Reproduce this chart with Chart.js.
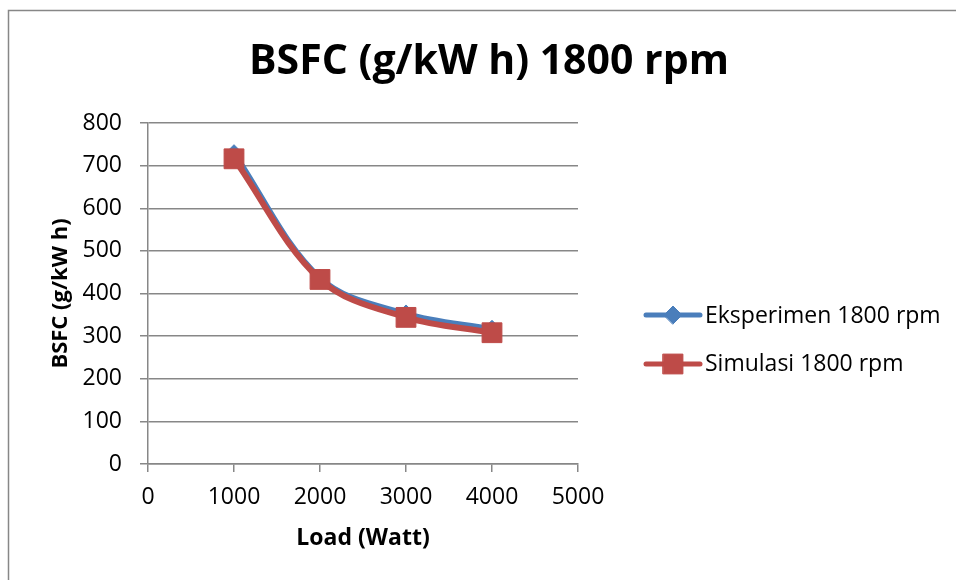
<!DOCTYPE html>
<html>
<head>
<meta charset="utf-8">
<script src="https://cdn.jsdelivr.net/npm/chart.js@4/dist/chart.umd.min.js"></script>
<style>
  body { margin: 0; background: #fff; }
  #bsfc { display: block; }
</style>
</head>
<body>
<canvas id="bsfc" width="956" height="580"></canvas>
<script>
// load points (Watt) and BSFC values (g/kW h)
var load = [1000, 2000, 3000, 4000];
var eksperimen = [728, 436, 352, 316];
var simulasi = [716, 433, 344, 308];
var xTicks = [0, 1000, 2000, 3000, 4000, 5000];
var yTicks = [0, 100, 200, 300, 400, 500, 600, 700, 800];

var FONT = "'Open Sans', Lato, sans-serif";
var GRID = "#878787";
var BLUE = "#4A7EBB";
var RED = "#BE4B48";

function toPoints(xs, ys) {
  var list = [];
  for (var i = 0; i < xs.length; i++) {
    list.push({x: xs[i], y: ys[i]});
  }
  return list;
}

function plain(v) { return String(v); }

// frame, title and legend drawn by hand
var decor = {
  id: "decor",
  beforeDraw: function(chart) {
    var ctx = chart.ctx;
    ctx.save();
    ctx.strokeStyle = GRID;
    ctx.lineWidth = 1.5;
    ctx.beginPath();
    ctx.moveTo(8.5, 600);
    ctx.lineTo(8.5, 10.5);
    ctx.lineTo(980, 10.5);
    ctx.stroke();
    ctx.restore();
  },
  afterDraw: function(chart) {
    var ctx = chart.ctx;
    ctx.save();
    ctx.fillStyle = "#000";
    ctx.font = "bold 41px " + FONT;
    ctx.textAlign = "center";
    ctx.textBaseline = "alphabetic";
    ctx.fillText("BSFC (g/kW h) 1800 rpm", 489, 74);

    var rows = [
      {ds: chart.data.datasets[0], y: 315, base: 323},
      {ds: chart.data.datasets[1], y: 364, base: 371}
    ];
    rows.forEach(function(r) {
      ctx.strokeStyle = r.ds.borderColor;
      ctx.lineWidth = 5;
      ctx.lineCap = "round";
      ctx.beginPath();
      ctx.moveTo(646, r.y);
      ctx.lineTo(700, r.y);
      ctx.stroke();
      ctx.fillStyle = r.ds.backgroundColor;
      ctx.strokeStyle = r.ds.borderColor;
      ctx.lineWidth = 1;
      Chart.helpers.drawPoint(ctx, {pointStyle: r.ds.pointStyle, radius: r.ds.pointRadius, borderWidth: 1}, 673, r.y);
      ctx.fillStyle = "#000";
      ctx.font = "23px " + FONT;
      ctx.textAlign = "left";
      ctx.textBaseline = "alphabetic";
      ctx.fillText(r.ds.label, 705, r.base);
    });
    ctx.restore();
  }
};

var chart = new Chart(document.getElementById("bsfc"), {
  type: "line",
  data: {
    datasets: [{
      label: "Eksperimen 1800 rpm",
      data: toPoints(load, eksperimen),
      borderColor: BLUE,
      backgroundColor: BLUE,
      borderWidth: 6,
      tension: 0.35,
      pointStyle: "rectRot",
      pointRadius: 9,
      pointBorderWidth: 1,
      order: 1
    }, {
      label: "Simulasi 1800 rpm",
      data: toPoints(load, simulasi),
      borderColor: RED,
      backgroundColor: RED,
      borderWidth: 6,
      tension: 0.35,
      pointStyle: "rect",
      pointRadius: 14,
      pointBorderWidth: 1,
      order: 0
    }]
  },
  options: {
    responsive: false,
    animation: false,
    layout: {padding: {left: 0, right: 378, top: 123, bottom: 0}},
    plugins: {
      legend: {display: false},
      title: {display: false},
      tooltip: {enabled: false}
    },
    scales: {
      x: {
        type: "linear",
        min: 0,
        max: 5000,
        afterBuildTicks: function(s) { s.ticks = xTicks.map(function(v) { return {value: v}; }); },
        afterFit: function(s) { s.height = 116; },
        grid: {drawOnChartArea: false, drawTicks: true, tickLength: 8, color: GRID, lineWidth: 1.5},
        border: {color: GRID, width: 1.5},
        ticks: {color: "#000", font: {family: FONT, size: 23}, padding: 12, maxRotation: 0, callback: plain},
        title: {display: true, text: "Load (Watt)", color: "#000",
                font: {family: FONT, size: 23, weight: "bold"}, padding: {top: 0, bottom: 28}}
      },
      y: {
        type: "linear",
        min: 0,
        max: 800,
        afterBuildTicks: function(s) { s.ticks = yTicks.map(function(v) { return {value: v}; }); },
        afterFit: function(s) { s.width = 148; },
        grid: {drawTicks: true, tickLength: 8, color: GRID, lineWidth: 1.5},
        border: {color: GRID, width: 1.5},
        ticks: {color: "#000", font: {family: FONT, size: 23}, padding: 18, callback: plain},
        title: {display: true, text: "BSFC (g/kW h)", color: "#000",
                font: {family: FONT, size: 22, weight: "bold"}, padding: {top: 48, bottom: 0}}
      }
    }
  },
  plugins: [decor]
});
</script>
</body>
</html>
